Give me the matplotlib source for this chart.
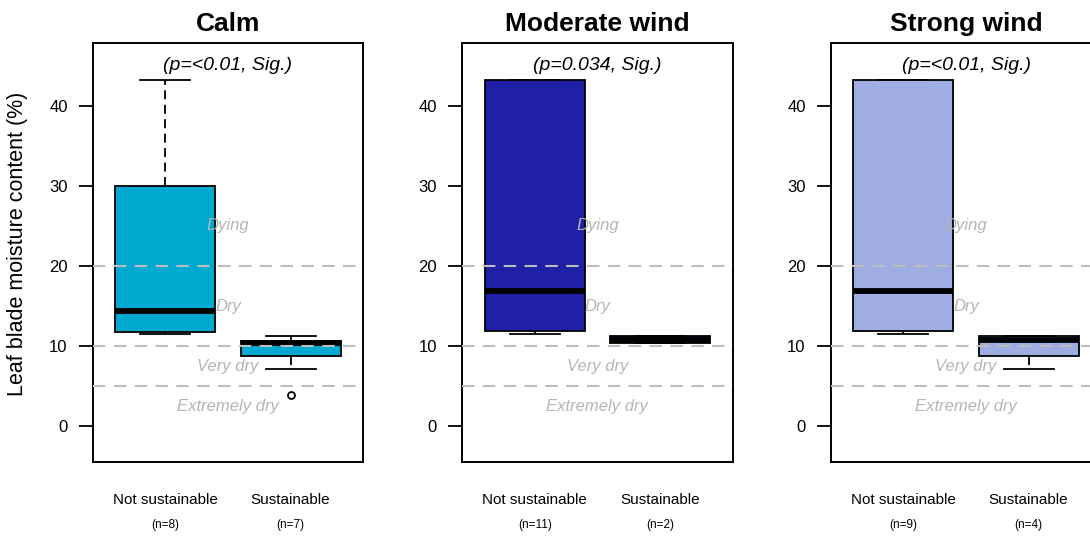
import matplotlib
matplotlib.use("Agg")
import matplotlib.pyplot as plt

plt.rcParams["font.family"] = ["Liberation Sans", "DejaVu Sans"]

# Wind conditions and the two sustainability groups in each.
conditions = ["Calm", "Moderate wind", "Strong wind"]
p_labels = ["(p=<0.01, Sig.)", "(p=0.034, Sig.)", "(p=<0.01, Sig.)"]
group_names = ["Not sustainable", "Sustainable"]
group_n = [[8, 7], [11, 2], [9, 4]]
box_colors = ["#00A9CF", "#1F20A6", "#9FADE2"]

# Box summaries (leaf blade moisture, %) per condition: [not sustainable, sustainable]
q1 = [[11.7, 8.8], [11.9, 10.4], [11.9, 8.8]]
med = [[14.4, 10.4], [16.9, 10.8], [16.9, 10.8]]
q3 = [[30.0, 10.6], [43.3, 11.2], [43.3, 11.2]]
whislo = [[11.5, 7.1], [11.5, 10.4], [11.5, 7.1]]
whishi = [[43.3, 11.3], [43.3, 11.2], [43.3, 11.2]]
fliers = [[[], [3.9]], [[], []], [[], []]]

# Moisture class thresholds and their labels
thresholds = [20, 10, 5]
zone_labels = ["Dying", "Dry", "Very dry", "Extremely dry"]
zone_y = [25, 15, 7.5, 2.5]

fig = plt.figure(figsize=(10.9, 5.37), dpi=100)
lefts = [0.0850, 0.4239, 0.7621]

for i, cond in enumerate(conditions):
    ax = fig.add_axes([lefts[i], 0.1402, 0.2483, 0.7803])
    stats = []
    for j in range(2):
        stats.append(dict(med=med[i][j], q1=q1[i][j], q3=q3[i][j],
                          whislo=whislo[i][j], whishi=whishi[i][j],
                          fliers=fliers[i][j]))
    ax.bxp(stats, positions=[1, 2], widths=0.8, capwidths=0.4,
           patch_artist=True, manage_ticks=False,
           boxprops=dict(facecolor=box_colors[i], edgecolor="black",
                         linewidth=1.3),
           medianprops=dict(color="black", linewidth=4.2,
                            solid_capstyle="butt"),
           whiskerprops=dict(color="black", linewidth=1.3,
                             linestyle=(0, (5, 3))),
           capprops=dict(color="black", linewidth=1.3),
           flierprops=dict(marker="o", markerfacecolor="none",
                           markeredgecolor="black", markersize=5,
                           markeredgewidth=1.3))

    for t in thresholds:
        ax.axhline(t, color="#bdbdbd", linewidth=1.5,
                   linestyle=(0, (6, 4)), zorder=3)
    for lab, yv in zip(zone_labels, zone_y):
        ax.text(1.5, yv, lab, ha="center", va="center", fontsize=12,
                style="italic", color="#b5b5b5", zorder=4)

    ax.text(1.5, 45, p_labels[i], ha="center", va="center",
            fontsize=14, style="italic", zorder=5)

    ax.set_xlim(0.42, 2.58)
    ax.set_ylim(-4.45, 47.9)
    ax.set_yticks([0, 10, 20, 30, 40])
    ax.set_xticks([])
    ax.tick_params(axis="y", length=10, width=1.3, pad=8, labelsize=12)
    for sp in ax.spines.values():
        sp.set_linewidth(1.4)

    for j in range(2):
        ax.text(j + 1, -0.0914, group_names[j], transform=ax.get_xaxis_transform(),
                ha="center", va="center", fontsize=11)
        ax.text(j + 1, -0.151, f"(n={group_n[i][j]})",
                transform=ax.get_xaxis_transform(),
                ha="center", va="center", fontsize=8.5)

    ax.set_title(cond, fontsize=19, fontweight="bold", pad=8.4)

fig.text(18 / 1090, 0.5456, "Leaf blade moisture content (%)", rotation=90,
         ha="center", va="center", fontsize=15.5)

fig.savefig("out.png", dpi=100)
